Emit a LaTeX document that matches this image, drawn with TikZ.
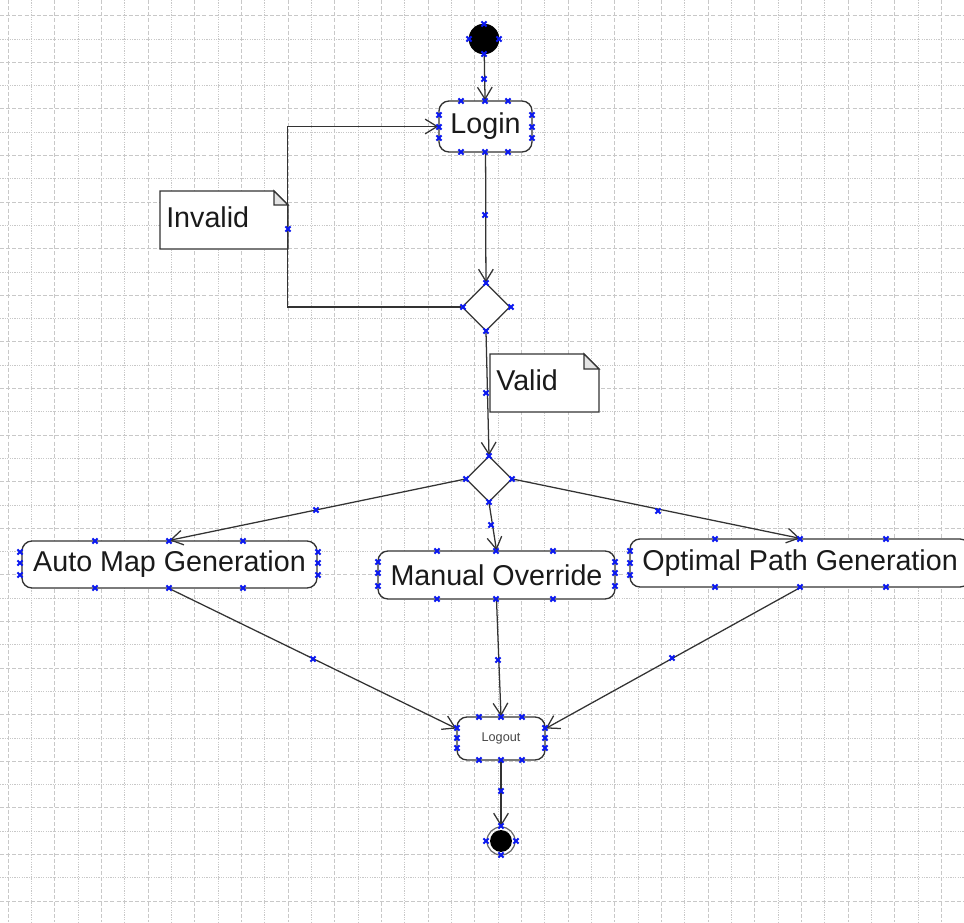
\documentclass[tikz,border=0pt]{standalone}
\usepackage{fontspec}
\setmainfont{Liberation Sans}
\usetikzlibrary{shapes.geometric,arrows.meta,calc}

\definecolor{edge}{HTML}{333333}
\definecolor{ink}{HTML}{1A1A1A}
\definecolor{gridc}{HTML}{C8C8C8}
\definecolor{cpblue}{HTML}{0A18F0}
\definecolor{foldc}{HTML}{E4E4E4}

\tikzset{
  gridA/.style={draw=gridc, line width=0.7pt, dash pattern=on 3pt off 1.6pt},
  gridB/.style={draw=gridc, line width=0.7pt, dash pattern=on 0.9pt off 0.9pt},
  activity/.style={draw=edge, line width=1pt, rounded corners=7.5pt, fill=white,
    inner sep=0pt, text=ink, font=\fontsize{21.5}{24}\selectfont},
  decision/.style={draw=edge, diamond, aspect=1, inner sep=0pt, fill=white, line width=0.9pt},
  flow/.style={draw=edge, line width=0.95pt,
    -{Straight Barb[length=9pt,width=11pt,line width=0.95pt]}},
  notebox/.style={draw=edge, line width=1pt, fill=white},
  notetext/.style={inner sep=0pt, text=ink, font=\fontsize{21.5}{24}\selectfont},
  cp/.pic={\draw[cpblue, line width=1.5pt] (-2.6,-2.6) -- (2.6,2.6) (-2.6,2.6) -- (2.6,-2.6);}
}

\begin{document}
\begin{tikzpicture}[x=0.75pt,y=-0.75pt]
  \clip (0,0) rectangle (964,922);
  \fill[white] (0,0) rectangle (964,922);

  % background grid, alternating dashed and dotted lines
  \foreach \i in {0,2,...,40} \draw[gridA] ({8.3+23.33*\i},0) -- ({8.3+23.33*\i},922);
  \foreach \i in {1,3,...,39} \draw[gridB] ({8.3+23.33*\i},0) -- ({8.3+23.33*\i},922);
  \foreach \j in {0,2,...,38} \draw[gridA] (0,{15.7+23.3*\j}) -- (964,{15.7+23.3*\j});
  \foreach \j in {1,3,...,37} \draw[gridB] (0,{15.7+23.3*\j}) -- (964,{15.7+23.3*\j});

  % notes
  \draw[notebox] (160,191) -- (274,191) -- (288,205) -- (288,249) -- (160,249) -- cycle;
  \filldraw[draw=edge, fill=foldc, line width=1pt] (274,191) -- (274,205) -- (288,205) -- cycle;
  \node[notetext, anchor=base west] (invalid) at (166,227) {Invalid};

  \draw[notebox] (490,354) -- (584,354) -- (599,369) -- (599,412) -- (490,412) -- cycle;
  \filldraw[draw=edge, fill=foldc, line width=1pt] (584,354) -- (584,369) -- (599,369) -- cycle;
  \node[notetext, anchor=base west] (valid) at (496,390) {Valid};

  % start and end states
  \node[circle, draw=black, fill=black, minimum size=22.5pt, inner sep=0pt] (start) at (484,39) {};
  \node[circle, draw=edge!75, line width=0.9pt, minimum size=21pt, inner sep=0pt] (finish) at (501,841) {};
  \fill[black] (finish.center) circle [radius=8.2pt];

  % activities
  \node[activity, minimum width=69.75pt, minimum height=38.25pt] (login) at (485.5,126.5) {Login};
  \node[activity, minimum width=221.25pt, minimum height=35.25pt] (auto) at (169.5,564.5) {Auto Map Generation};
  \node[activity, minimum width=177.75pt, minimum height=36pt] (manual) at (496.5,575) {Manual Override};
  \node[activity, minimum width=255pt, minimum height=36pt] (optimal) at (800,563) {Optimal Path Generation};
  \node[activity, minimum width=66pt, minimum height=32.25pt, text=edge!90,
        font=\fontsize{9.5}{11}\selectfont] (logout) at (501,738.5) {Logout};

  % decisions
  \node[decision, minimum size=36pt] (check) at (486,307) {};
  \node[decision, minimum size=34.5pt] (fork) at (489,479) {};

  % control flow
  \draw[flow] (start) -- (login);
  \draw[flow] (login) -- (check);
  \draw[flow] (check.west) -- ++(-174,0) |- (login.west);
  \draw[flow] (check.south) -- (fork.north);
  \draw[flow] (fork.west) -- (auto.north);
  \draw[flow] (fork.south) -- (manual.north);
  \draw[flow] (fork.east) -- (optimal.north);
  \draw[flow] (auto.south) -- ([yshift=7.5pt]logout.west);
  \draw[flow] (manual.south) -- (logout.north);
  \draw[flow] (optimal.south) -- ([yshift=7.5pt]logout.east);
  \draw[flow] (logout.south) -- (finish.north);

  % connection points
  \foreach \p in {
    (484,24),(469,39),(499,39),(484,54),(484,79),
    (461,101),(485,101),(508,101),(461,152),(485,152),(508,152),
    (439,115),(439,127),(439,138),(532,115),(532,127),(532,138),
    (485,215),(288,229),
    (486,283),(463,307),(511,307),(486,331),(486,393),
    (489,456),(466,479),(512,479),(489,502),
    (316,510),(491,525),(658,511),
    (95,541),(169,541),(243,541),(95,588),(169,588),(243,588),
    (20,552),(20,563),(20,575),(318,552),(318,563),(318,575),
    (437,551),(496,551),(553,551),(437,599),(496,599),(553,599),
    (378,562),(378,573),(378,586),(615,562),(615,573),(615,586),
    (715,539),(800,539),(886,539),(715,587),(800,587),(886,587),
    (630,551),(630,563),(630,575),
    (313,659),(498,660),(672,658),
    (479,717),(501,717),(522,717),(479,760),(501,760),(522,760),
    (457,728),(457,738),(457,748),(545,728),(545,738),(545,748),
    (501,791),
    (501,826),(486,841),(516,841),(501,855)}
    \pic at \p {cp};
\end{tikzpicture}
\end{document}
